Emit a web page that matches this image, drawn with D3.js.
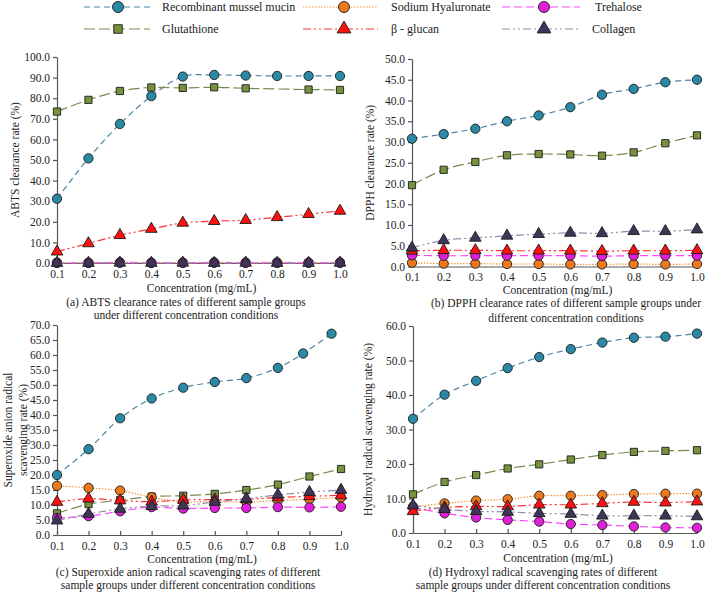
<!DOCTYPE html>
<html><head><meta charset="utf-8">
<script src="https://cdn.jsdelivr.net/npm/d3@7"></script>
<style>
body{margin:0;background:#fff}
svg{display:block}
text{font-family:"Liberation Serif","Times New Roman",serif;fill:#222}
</style>
</head><body>
<svg id="chart" width="708" height="592"></svg>
<script>
// ---------- DATA ----------
const concentrations = [0.1,0.2,0.3,0.4,0.5,0.6,0.7,0.8,0.9,1.0];
const xTickLabels = ["0.1","0.2","0.3","0.4","0.5","0.6","0.7","0.8","0.9","1.0"];
const seriesNames = ["Recombinant mussel mucin","Glutathione","Sodium Hyaluronate","β - glucan","Trehalose","Collagen"];

// (a) ABTS  (null = no marker drawn at that concentration)
const abtsMussel      = [31.2,50.8,67.5,81.0,90.5,91.3,91.0,90.8,90.8,90.8];
const abtsGlutathione = [73.5,79.2,83.5,85.2,85.0,85.3,84.8,null,84.2,84.0];
const abtsHyaluronate = [0.2,0.2,0.3,0.2,0.2,0.3,0.2,0.3,0.2,0.3];
const abtsGlucan      = [5.5,9.5,13.5,16.5,19.5,20.3,20.8,22.2,23.7,25.3];
const abtsTrehalose   = [0.0,0.0,0.1,0.0,0.0,0.1,0.0,0.0,0.1,0.0];
const abtsCollagen    = [0.0,0.0,0.1,0.0,0.1,0.0,0.1,0.0,0.0,0.1];

// (b) DPPH
const dpphMussel      = [30.8,31.9,33.2,35.0,36.4,38.4,41.4,42.8,44.4,45.0];
const dpphGlutathione = [19.6,23.3,25.2,26.8,27.1,27.0,26.7,27.5,29.7,31.6];
const dpphHyaluronate = [0.9,0.7,0.7,0.6,0.6,0.5,0.5,0.6,0.5,0.6];
const dpphGlucan      = [3.8,3.9,3.9,3.8,3.8,3.8,3.7,3.8,3.8,3.9];
const dpphTrehalose   = [2.7,2.6,2.6,2.6,2.6,2.6,2.5,2.6,2.6,2.6];
const dpphCollagen    = [4.5,6.3,6.9,7.4,7.8,8.1,8.0,8.5,8.5,8.9];

// (c) Superoxide anion
const superMusselX     = [0.1,0.2,0.3,0.4,0.5,0.6,0.7,0.8,0.88,0.97];
const superMussel      = [20.0,28.6,38.9,45.5,49.1,51.0,52.3,55.7,60.5,67.1];
const superGlutathione = [7.2,10.3,11.6,12.8,13.1,13.7,15.0,16.8,19.5,22.0];
const superHyaluronate = [16.4,15.7,14.8,12.6,11.1,11.1,11.0,11.5,11.9,12.5];
const superGlucan      = [11.0,12.1,11.5,11.1,11.7,11.8,11.9,12.5,12.9,13.2];
const superTrehalose   = [5.7,6.3,7.9,9.3,8.8,9.0,9.0,9.3,9.2,9.4];
const superCollagen    = [4.8,7.0,8.7,9.6,9.8,11.0,12.1,13.4,14.3,15.0];

// (d) Hydroxyl radical
const hydroMussel      = [33.1,40.1,44.1,47.8,51.0,53.3,55.2,56.6,56.9,57.8];
const hydroGlutathione = [11.2,14.8,16.8,18.7,19.9,21.3,22.6,23.5,23.8,24.0];
const hydroHyaluronate = [7.6,8.6,9.4,9.8,10.8,10.8,11.0,11.3,11.4,11.4];
const hydroGlucan      = [6.3,7.4,7.7,7.7,8.2,8.2,8.6,9.0,8.8,9.1];
const hydroTrehalose   = [7.4,5.7,4.5,3.8,3.3,2.6,2.3,1.9,1.6,1.5];
const hydroCollagen    = [8.0,6.9,6.3,6.1,5.7,5.5,5.0,5.0,5.0,4.8];

// ---------- STYLES ----------
const FONT = "'Liberation Serif','Times New Roman',serif";
const styles = {
  "Recombinant mussel mucin": {line:"#4a86a3", dash:"6,4", fill:"#2a8aa6", shape:d3.symbolCircle, size:68},
  "Glutathione":              {line:"#7b8a4c", dash:"11,4", fill:"#76923c", shape:d3.symbolSquare, size:52},
  "Sodium Hyaluronate":       {line:"#f5953a", dash:"1.5,1.5", fill:"#ec7a1c", shape:d3.symbolCircle, size:68},
  "β - glucan":               {line:"#ff3030", dash:"8,3,2,3,2,3", fill:"#ff1010", shape:d3.symbolTriangle, size:58},
  "Trehalose":                {line:"#ff44ff", dash:"8,4", fill:"#e020d8", shape:d3.symbolCircle, size:68},
  "Collagen":                 {line:"#958ba8", dash:"8,3,2,3,2,3", fill:"#3e3559", shape:d3.symbolTriangle, size:58}
};
const drawOrder = ["Recombinant mussel mucin","Glutathione","Sodium Hyaluronate","Trehalose","β - glucan","Collagen"];

const panels = [
  {x0:57, x1:340, yTop:57, yBot:263, yMax:100, yStep:10,
   ylabel:["ABTS clearance rate (%)"], ylabelX:[19],
   concY:292, capY:[305.5,319],
   caption:["(a) ABTS clearance rates of different sample groups","under different concentration conditions"], capX:186,
   series:{"Recombinant mussel mucin":abtsMussel,"Glutathione":abtsGlutathione,"Sodium Hyaluronate":abtsHyaluronate,
           "β - glucan":abtsGlucan,"Trehalose":abtsTrehalose,"Collagen":abtsCollagen}},
  {x0:412, x1:697, yTop:59, yBot:266.5, yMax:50, yStep:5,
   ylabel:["DPPH clearance rate (%)"], ylabelX:[374],
   concY:293.5, capY:[307,321.5],
   caption:["(b) DPPH clearance rates of different sample groups under","different concentration conditions"], capX:566,
   series:{"Recombinant mussel mucin":dpphMussel,"Glutathione":dpphGlutathione,"Sodium Hyaluronate":dpphHyaluronate,
           "β - glucan":dpphGlucan,"Trehalose":dpphTrehalose,"Collagen":dpphCollagen}},
  {x0:57, x1:341, yTop:325, yBot:535, yMax:70, yStep:5,
   ylabel:["Superoxide anion radical","scavenging rate (%)"], ylabelX:[12,27],
   concY:563, capY:[575.5,589],
   caption:["(c) Superoxide anion radical scavenging rates of different","sample groups under different concentration conditions"], capX:188,
   xOverride:{"Recombinant mussel mucin":superMusselX},
   series:{"Recombinant mussel mucin":superMussel,"Glutathione":superGlutathione,"Sodium Hyaluronate":superHyaluronate,
           "β - glucan":superGlucan,"Trehalose":superTrehalose,"Collagen":superCollagen}},
  {x0:413, x1:697, yTop:326, yBot:533, yMax:60, yStep:10,
   ylabel:["Hydroxyl radical scavenging rate (%)"], ylabelX:[372],
   concY:562, capY:[575.5,589],
   caption:["(d) Hydroxyl radical scavenging rates of different","sample groups under different concentration conditions"], capX:543,
   series:{"Recombinant mussel mucin":hydroMussel,"Glutathione":hydroGlutathione,"Sodium Hyaluronate":hydroHyaluronate,
           "β - glucan":hydroGlucan,"Trehalose":hydroTrehalose,"Collagen":hydroCollagen}}
];

const svg = d3.select("#chart");
const fmt = d3.format(".1f");
const FS = 11.5;

panels.forEach(p => {
  const x = d3.scaleLinear().domain([0.1,1.0]).range([p.x0,p.x1]);
  const y = d3.scaleLinear().domain([0,p.yMax]).range([p.yBot,p.yTop]);
  const g = svg.append("g");

  const yTicks = d3.range(0, p.yMax + p.yStep/2, p.yStep);
  const yAxis = g.append("g").attr("transform",`translate(${p.x0},0)`)
    .call(d3.axisLeft(y).tickValues(yTicks).tickFormat(fmt).tickSizeInner(4).tickSizeOuter(0).tickPadding(3));
  const xAxis = g.append("g").attr("transform",`translate(0,${p.yBot})`)
    .call(d3.axisBottom(x).tickValues(concentrations).tickFormat((d,i)=>xTickLabels[i]).tickSizeInner(-4).tickSizeOuter(0).tickPadding(6.5));
  [yAxis,xAxis].forEach(a=>{
    a.attr("font-family",FONT).attr("font-size",FS);
    a.selectAll("path,line").attr("stroke","#555").attr("stroke-width",1.2);
    a.selectAll("text").attr("fill","#222");
  });

  const midY = (p.yTop + p.yBot)/2;
  p.ylabel.forEach((t,i)=>{
    g.append("text").attr("transform",`translate(${p.ylabelX[i]},${midY}) rotate(-90)`)
      .attr("text-anchor","middle").attr("font-size",FS).attr("font-family",FONT).text(t);
  });
  g.append("text").attr("x",(p.x0+p.x1)/2 + 3).attr("y",p.concY).attr("text-anchor","middle")
    .attr("font-size",FS).attr("font-family",FONT).text("Concentration (mg/mL)");
  p.caption.forEach((t,i)=>{
    g.append("text").attr("x",p.capX).attr("y",p.capY[i]).attr("text-anchor","middle")
      .attr("font-size",FS).attr("font-family",FONT).text(t);
  });

  drawOrder.forEach(name=>{
    const st = styles[name];
    const vals = p.series[name];
    const xs = (p.xOverride && p.xOverride[name]) || concentrations;
    const pts = vals.map((v,i)=>[xs[i],v]).filter(d=>d[1]!==null);
    const line = d3.line().x(d=>x(d[0])).y(d=>y(d[1])).curve(d3.curveCatmullRom.alpha(0.5));
    g.append("path").attr("d",line(pts)).attr("fill","none").attr("stroke",st.line)
      .attr("stroke-width",1.2).attr("stroke-dasharray",st.dash);
    g.selectAll(null).data(pts).enter().append("path")
      .attr("d",d3.symbol().type(st.shape).size(st.size))
      .attr("transform",d=>`translate(${x(d[0])},${y(d[1])})`)
      .attr("fill",st.fill).attr("stroke","#1b1b1b").attr("stroke-width",0.9);
  });
});

// ---------- LEGEND ----------
const legendItems = [
  {name:"Recombinant mussel mucin", lx0:84,  lx1:150, mx:118, tx:162, ty:7},
  {name:"Glutathione",              lx0:84,  lx1:150, mx:118, tx:162, ty:29},
  {name:"Sodium Hyaluronate",       lx0:303, lx1:378, mx:344, tx:391, ty:7},
  {name:"β - glucan",               lx0:303, lx1:378, mx:344, tx:391, ty:29},
  {name:"Trehalose",                lx0:502, lx1:580, mx:544, tx:595, ty:7},
  {name:"Collagen",                 lx0:502, lx1:580, mx:544, tx:592, ty:29}
];
const lg = svg.append("g");
legendItems.forEach(it=>{
  const st = styles[it.name];
  lg.append("line").attr("x1",it.lx0).attr("x2",it.lx1).attr("y1",it.ty).attr("y2",it.ty)
    .attr("stroke",st.line).attr("stroke-width",1.2).attr("stroke-dasharray",st.dash);
  lg.append("path").attr("d",d3.symbol().type(st.shape).size(st.size*1.4)())
    .attr("transform",`translate(${it.mx},${it.ty})`).attr("fill",st.fill).attr("stroke","#1b1b1b").attr("stroke-width",0.9);
  lg.append("text").attr("x",it.tx).attr("y",it.ty+4).attr("font-size",12).attr("font-family",FONT).text(it.name);
});
</script>
</body></html>
